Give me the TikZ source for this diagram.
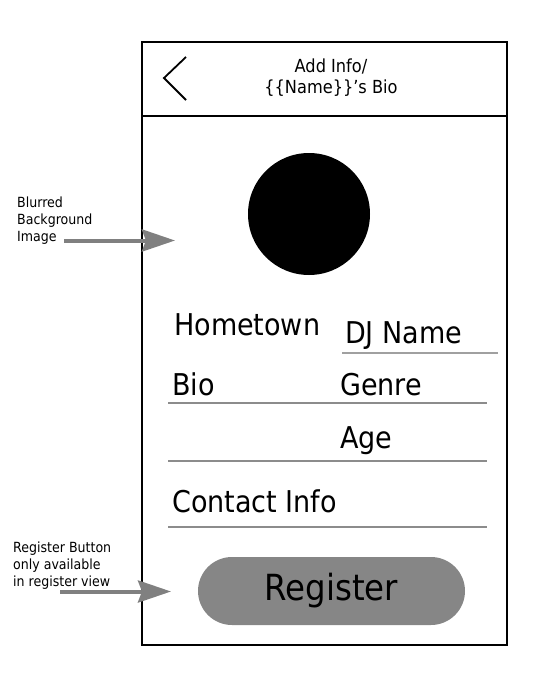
\documentclass[tikz,border=0pt]{standalone}
\usepackage{fontspec}
\setmainfont{DejaVu Sans Condensed}
\usepackage{xcolor}
\usetikzlibrary{
    arrows.meta,
    positioning
}
\definecolor{btngray}{HTML}{868686}
\definecolor{arrowgray}{HTML}{808080}
\definecolor{linegray}{HTML}{8C8C8C}
\definecolor{thingray}{HTML}{A0A0A0}

\tikzset{
    frame/.style={line width=2.5pt},
    chevron/.style={line width=1.8pt},
    title/.style={align=center, inner sep=0pt, font=\fontsize{18}{21}\selectfont},
    field/.style={anchor=base west, inner sep=0pt, font=\fontsize{30}{36}\selectfont},
    underline/.style={draw=linegray, line width=2.5pt},
    thinline/.style={draw=thingray, line width=1.6pt},
    button/.style={fill=btngray, rounded corners=34pt, minimum width=267pt,
        minimum height=68pt, inner sep=0pt, font=\fontsize{36}{40}\selectfont},
    note/.style={anchor=north west, inner sep=0pt, align=left,
        font=\fontsize{14}{17}\selectfont},
    pointer/.style={draw=arrowgray, line width=4pt,
        -{Stealth[length=33pt, width=22pt, inset=4pt]}}
}

\begin{document}
\begin{tikzpicture}[x=1pt, y=-1pt]
                        \useasboundingbox (0, 0) rectangle (552, 673);
                        \draw[frame]
                        (142, 42) rectangle (507, 645)
                        (142, 116) -- (507, 116);
                        \draw[chevron] (186, 57) -- (164, 78) -- (186, 100);
                        \node[title] (title) at (331, 78) {Add Info/\\\{\{Name\}\}’s Bio};
                        \fill (309, 214) circle (61pt);
                        \node[field] (hometown) at (174, 335) {Hometown};
                        \node[field] (djname) at (345, 343) {DJ Name};
                        \node[field] (bio) at (172, 395) {Bio};
                        \node[field] (genre) at (340, 395) {Genre};
                        \node[field] (age) at (340, 448) {Age};
                        \node[field] (contact) at (172, 512) {Contact Info};
                        \draw[thinline] (342, 353) -- (498, 353);
                        \draw[underline]
                        (168, 403) -- (487, 403)
                        (168, 461) -- (487, 461)
                        (168, 527) -- (487, 527);
                        \node[button] (register) at (331.5, 591) {Register};
                        \node[note] (bgnote) at (17, 197) {Blurred\\Background\\Image};
                        \node[note] (regnote) at (13, 542) {Register Button\\only available\\in register view};
                        \coordinate (bgstart) at (64, 240.5);
                        \coordinate (bgend) at (175, 240.5);
                        \coordinate (regstart) at (60, 591.5);
                        \coordinate (regend) at (171, 591.5);
                        \draw[pointer] (bgstart) -- (bgend);
                        \draw[pointer] (regstart) -- (regend);
                    \end{tikzpicture}
\end{document}
